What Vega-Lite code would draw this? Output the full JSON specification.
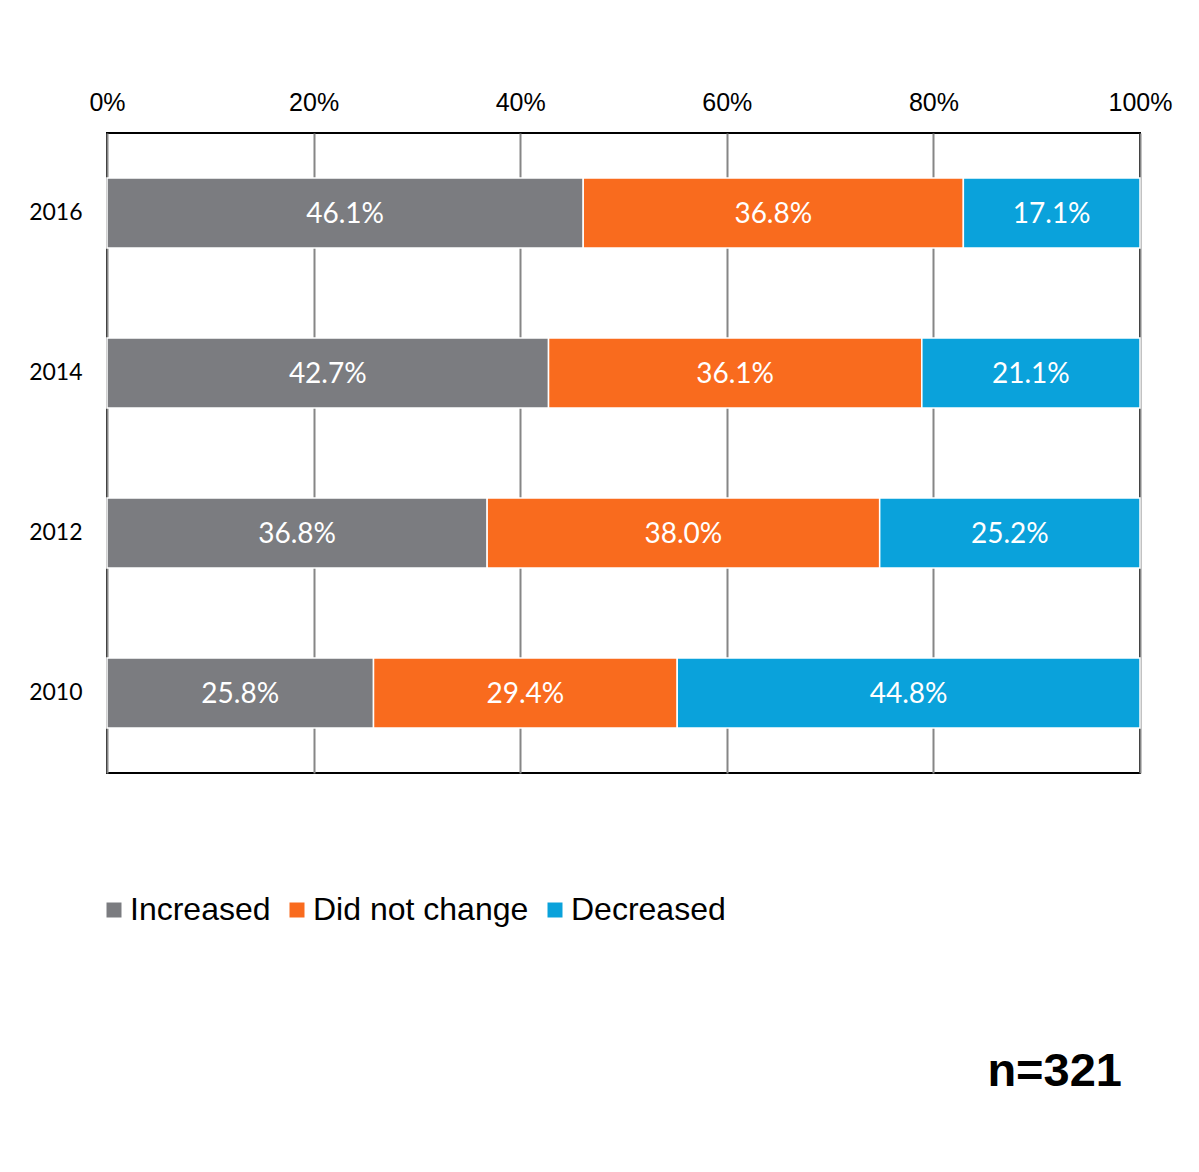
{
  "$schema": "https://vega.github.io/schema/vega-lite/v6.json",
  "autosize": "none",
  "padding": {"left": 107, "top": 133, "right": 59, "bottom": 399},
  "width": 1033,
  "height": 640,
  "background": "white",
  "title": {
    "text": "n=321",
    "orient": "bottom",
    "anchor": "end",
    "font": "Liberation Sans",
    "fontSize": 47,
    "fontWeight": "bold",
    "color": "black",
    "offset": 123,
    "dx": -50
  },
  "config": {
    "view": {"stroke": "black", "strokeWidth": 2},
    "axis": {"labelColor": "black"}
  },
  "data": {
    "values": [
      {"year": "2016", "response": "Increased", "value": 0.461, "order": 1},
      {"year": "2016", "response": "Did not change", "value": 0.368, "order": 2},
      {"year": "2016", "response": "Decreased", "value": 0.171, "order": 3},
      {"year": "2014", "response": "Increased", "value": 0.427, "order": 1},
      {"year": "2014", "response": "Did not change", "value": 0.361, "order": 2},
      {"year": "2014", "response": "Decreased", "value": 0.211, "order": 3},
      {"year": "2012", "response": "Increased", "value": 0.368, "order": 1},
      {"year": "2012", "response": "Did not change", "value": 0.380, "order": 2},
      {"year": "2012", "response": "Decreased", "value": 0.252, "order": 3},
      {"year": "2010", "response": "Increased", "value": 0.258, "order": 1},
      {"year": "2010", "response": "Did not change", "value": 0.294, "order": 2},
      {"year": "2010", "response": "Decreased", "value": 0.448, "order": 3}
    ]
  },
  "encoding": {
    "y": {
      "field": "year",
      "type": "nominal",
      "sort": "descending",
      "scale": {"paddingInner": 0.5625, "paddingOuter": 0.28125},
      "axis": {"title": null, "labelFont": "Lato", "labelFontSize": 23, "labelPadding": 25, "ticks": false, "domain": false, "labelAlign": "right"}
    },
    "order": {"field": "order", "type": "quantitative"}
  },
  "layer": [
    {
      "mark": {"type": "bar", "stroke": "white", "strokeWidth": 1.5},
      "encoding": {
        "x": {
          "field": "value",
          "type": "quantitative",
          "stack": "normalize",
          "scale": {"domain": [0, 1], "nice": false},
          "axis": {
            "orient": "top",
            "title": null,
            "format": ".0%",
            "values": [0, 0.2, 0.4, 0.6, 0.8, 1],
            "labelFont": "Liberation Sans",
            "labelFontSize": 25,
            "labelPadding": 18,
            "ticks": false,
            "domain": false,
            "grid": true,
            "gridColor": "#868686",
            "gridWidth": 2,
            "labelFlush": false
          }
        },
        "color": {
          "field": "response",
          "type": "nominal",
          "sort": ["Increased", "Did not change", "Decreased"],
          "scale": {"domain": ["Increased", "Did not change", "Decreased"], "range": ["#7B7C80", "#F96B1E", "#0AA2DB"]},
          "legend": {
            "title": null,
            "orient": "none",
            "legendX": -9,
            "legendY": 761,
            "direction": "horizontal",
            "symbolType": "square",
            "symbolSize": 225,
            "symbolStrokeWidth": 0,
            "labelFont": "Liberation Sans",
            "labelFontSize": 32,
            "labelColor": "black",
            "labelOffset": 0,
            "columnPadding": 10,
            "padding": 0,
            "labelLimit": 400
          }
        }
      }
    },
    {
      "mark": {"type": "text", "color": "white", "font": "Lato", "fontSize": 28, "baseline": "middle", "align": "center", "dy": 2},
      "encoding": {
        "x": {"field": "value", "type": "quantitative", "stack": "normalize", "bandPosition": 0.5},
        "detail": {"field": "response", "type": "nominal"},
        "text": {"field": "value", "type": "quantitative", "format": ".1%"}
      }
    }
  ]
}
